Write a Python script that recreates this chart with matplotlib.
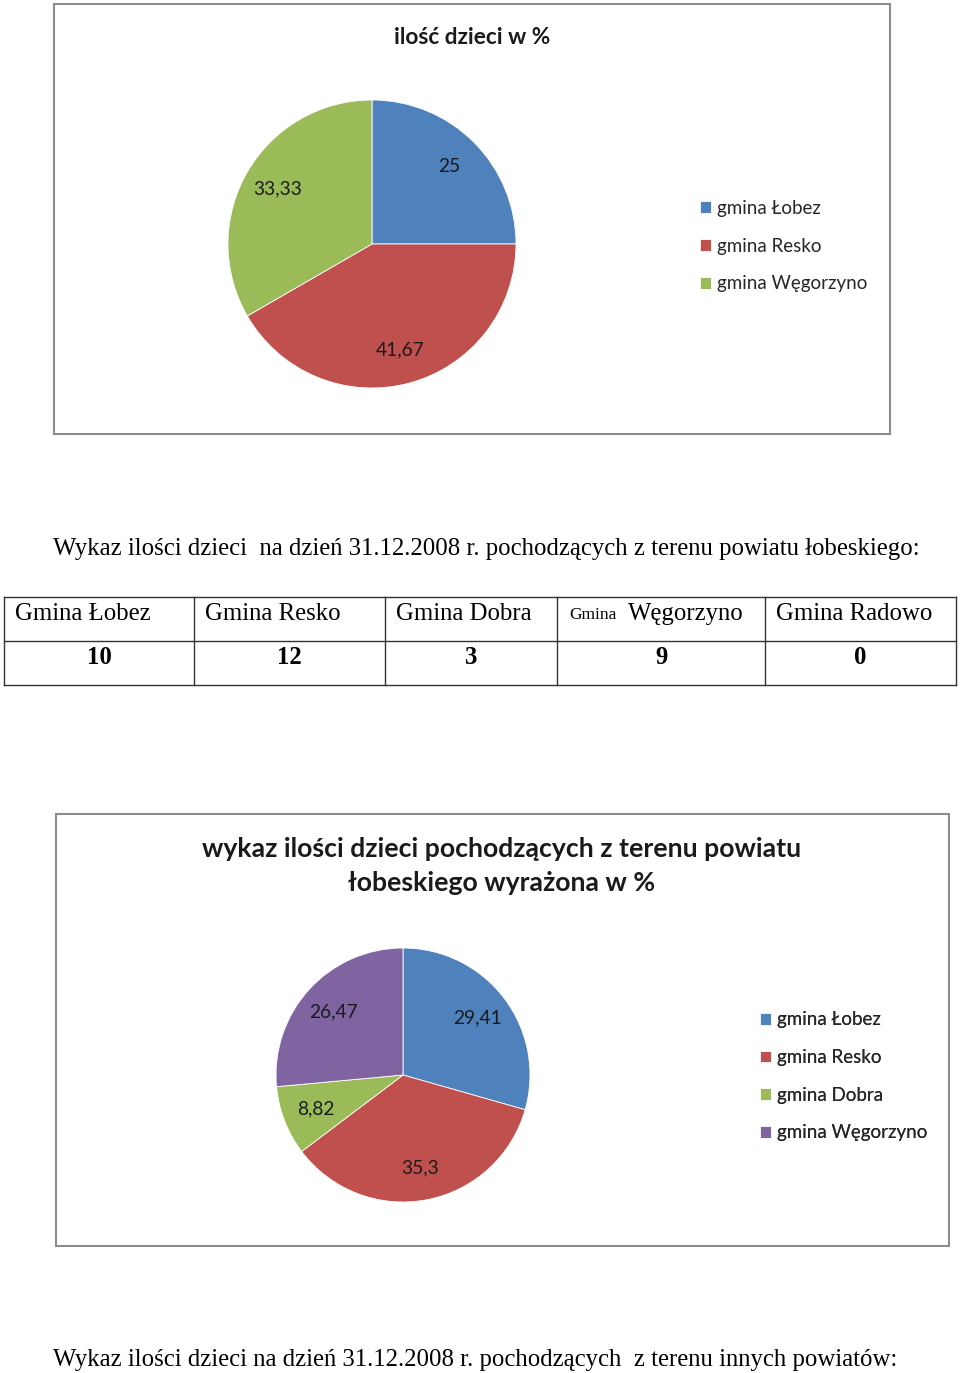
import numpy as np
import matplotlib.pyplot as plt
from matplotlib.patches import Rectangle

# data
top_labels = ['gmina Łobez', 'gmina Resko', 'gmina Węgorzyno']
top_pct = [25, 41.67, 33.33]
top_colors = ['#4F81BD', '#C0504D', '#9BBB59']

bottom_labels = ['gmina Łobez', 'gmina Resko', 'gmina Dobra', 'gmina Węgorzyno']
bottom_pct = [29.41, 35.3, 8.82, 26.47]
bottom_colors = ['#4F81BD', '#C0504D', '#9BBB59', '#8064A2']

table_headers = ['Gmina Łobez', 'Gmina Resko', 'Gmina Dobra', 'Gmina Węgorzyno', 'Gmina Radowo']
table_counts = [10, 12, 3, 9, 0]
col_edges = [4, 194, 385, 557, 765, 956]

W, H = 960, 1373
SANS = 'Lato'
SERIF = 'Liberation Serif'
SERIF_SIZE = 17.8

fig = plt.figure(figsize=(W / 100, H / 100), dpi=100)
bg = fig.add_axes([0, 0, 1, 1])
bg.set_xlim(0, W)
bg.set_ylim(H, 0)
bg.axis('off')


def fmt(v):
    return f'{v:g}'.replace('.', ',')


def chart_box(x0, y0, x1, y1):
    bg.add_patch(Rectangle((x0, y0), x1 - x0, y1 - y0, fill=False,
                           edgecolor='#8c8c8c', linewidth=1.5))


def pie_chart(cx, cy, r, values, colors, labels, pctdist, leg_x, leg_y):
    pax = fig.add_axes([(cx - r) / W, (H - cy - r) / H, 2 * r / W, 2 * r / H])
    wedges, _ = pax.pie(values, colors=colors, startangle=90, counterclock=False,
                        radius=1, wedgeprops=dict(linewidth=0.6, edgecolor='white'))
    pax.set_xlim(-1, 1)
    pax.set_ylim(-1, 1)
    pax.axis('off')
    for w, v in zip(wedges, values):
        ang = np.deg2rad((w.theta1 + w.theta2) / 2)
        pax.text(pctdist * np.cos(ang), pctdist * np.sin(ang), fmt(v),
                 ha='center', va='center', fontsize=13.8, family=SANS, color='#1a1a1a')
    leg = bg.legend(wedges, labels, loc='upper left',
                    bbox_to_anchor=(leg_x / W, 1 - leg_y / H), bbox_transform=fig.transFigure,
                    frameon=False, prop=dict(family=SANS, size=13.5),
                    handlelength=0.6, handleheight=0.6, handletextpad=0.3,
                    labelspacing=1.1, borderpad=0, borderaxespad=0)
    for t in leg.get_texts():
        t.set_color('#262626')
    bg.add_artist(leg)


# top chart
chart_box(54, 4, 890, 434)
bg.text(472, 37, 'ilość dzieci w %', ha='center', va='center',
        fontsize=16.3, fontweight='bold', family=SANS, color='#1a1a1a')
pie_chart(372, 244, 144, top_pct, top_colors, top_labels, 0.76, 700, 200)

# caption 1
bg.text(53, 549, 'Wykaz ilości dzieci  na dzień 31.12.2008 r. pochodzących z terenu powiatu łobeskiego:',
        ha='left', va='center', fontsize=SERIF_SIZE, family=SERIF, color='black')

# table
ty0, ty1, ty2 = 597, 641, 685
for y in (ty0, ty1, ty2):
    bg.plot([col_edges[0], col_edges[-1]], [y, y], color='#333333', lw=1)
for x in col_edges:
    bg.plot([x, x], [ty0, ty2], color='#333333', lw=1)
for i, (hdr, cnt) in enumerate(zip(table_headers, table_counts)):
    x0, x1 = col_edges[i], col_edges[i + 1]
    if hdr == 'Gmina Węgorzyno':
        # "Gmina" is set in a smaller size in the source document
        bg.text(x0 + 12, 615, 'Gmina', ha='left', va='center', fontsize=12.5,
                family=SERIF, color='black')
        bg.text(x0 + 71, 614, 'Węgorzyno', ha='left', va='center', fontsize=SERIF_SIZE,
                family=SERIF, color='black')
    else:
        bg.text(x0 + 11, 614, hdr, ha='left', va='center', fontsize=SERIF_SIZE,
                family=SERIF, color='black')
    bg.text((x0 + x1) / 2, 658, str(cnt), ha='center', va='center', fontsize=SERIF_SIZE,
            fontweight='bold', family=SERIF, color='black')

# bottom chart
chart_box(56, 814, 949, 1246)
bg.text(502, 849, 'wykaz ilości dzieci pochodzących z terenu powiatu',
        ha='center', va='center', fontsize=19.2, fontweight='bold', family=SANS, color='#1a1a1a')
bg.text(502, 883, 'łobeskiego wyrażona w %',
        ha='center', va='center', fontsize=19.2, fontweight='bold', family=SANS, color='#1a1a1a')
pie_chart(403, 1075, 127, bottom_pct, bottom_colors, bottom_labels, 0.74, 760, 1011.5)

# caption 2
bg.text(53, 1360, 'Wykaz ilości dzieci na dzień 31.12.2008 r. pochodzących  z terenu innych powiatów:',
        ha='left', va='center', fontsize=SERIF_SIZE, family=SERIF, color='black')

fig.savefig('out.png', dpi=100, facecolor='white')
